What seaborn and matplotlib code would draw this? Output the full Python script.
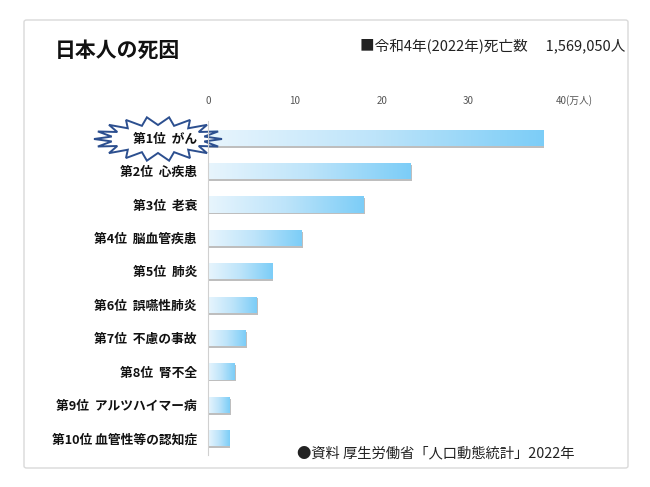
import numpy as np
import pandas as pd
import matplotlib
matplotlib.use("Agg")
import matplotlib.pyplot as plt
import seaborn as sns
from matplotlib.patches import Polygon, FancyBboxPatch
from matplotlib import patheffects as pe
from matplotlib.colors import LinearSegmentedColormap
from matplotlib.transforms import ScaledTranslation

causes = ["第1位  がん", "第2位  心疾患", "第3位  老衰", "第4位  脳血管疾患", "第5位  肺炎",
          "第6位  誤嚥性肺炎", "第7位  不慮の事故", "第8位  腎不全", "第9位  アルツハイマー病",
          "第10位 血管性等の認知症"]
deaths = [38.58, 23.30, 17.95, 10.75, 7.40, 5.61, 4.34, 3.07, 2.49, 2.44]  # 万人
tick_vals = [0, 10, 20, 30, 40]
tick_labels = ["0", "10", "20", "30", "40(万人)"]

title = "日本人の死因"
subtitle = "■令和4年(2022年)死亡数　 1,569,050人"
source = "●資料 厚生労働省「人口動態統計」2022年"

sns.set_theme(style="white")
plt.rcParams['font.family'] = ['Noto Sans CJK JP', 'DejaVu Sans']

W, H = 650, 487
fig = plt.figure(figsize=(6.5, 4.87), dpi=100)
fig.patch.set_facecolor("white")

def fx(x): return x / W
def fy(y): return 1 - y / H

# outer frame
frame = FancyBboxPatch((fx(24), fy(468)), fx(604), 448 / H,
                       boxstyle="round,pad=0,rounding_size=0.004",
                       transform=fig.transFigure, facecolor="white",
                       edgecolor="#d9d9d9", linewidth=1.0, zorder=-3)
fig.patches.append(frame)

ax = fig.add_axes([fx(208), fy(455), 391 / W, 334 / H])
ax.patch.set_visible(False)
ax.set_axisbelow(False)

df = pd.DataFrame({"cause": causes, "deaths": deaths})
sns.barplot(data=df, x="deaths", y="cause", ax=ax, color="#7ccdf7",
            width=0.48, orient="h", saturation=1)

cmap = LinearSegmentedColormap.from_list("g", ["#e8f5fd", "#bde4fa", "#7ccdf7"])
grad = np.linspace(0, 1, 256).reshape(1, -1)
for p in ax.patches:
    p.set_edgecolor("none")
    p.set_path_effects([pe.SimplePatchShadow(offset=(0.8, -1.3), shadow_rgbFace="#8a8a8a", alpha=0.55),
                        pe.Normal()])
    x0, y0 = p.get_x(), p.get_y()
    w, h = p.get_width(), p.get_height()
    im = ax.imshow(grad, cmap=cmap, aspect="auto", extent=(x0, x0 + w, y0 + h, y0),
                   zorder=p.get_zorder() + 0.1, interpolation="bicubic")
    im.set_clip_path(p)

ax.set_xlim(0, 45)
ax.set_ylim(len(causes) - 0.5, -0.5)
ax.set_xlabel("")
ax.set_ylabel("")
ax.xaxis.tick_top()
ax.set_xticks(tick_vals)
ax.set_xticklabels(tick_labels, fontsize=7, color="#555555")
lbls = ax.get_xticklabels()
lbls[-1].set_horizontalalignment("left")
lbls[-1].set_transform(lbls[-1].get_transform() + ScaledTranslation(-0.06, 0, fig.dpi_scale_trans))
ax.tick_params(axis="x", length=0, pad=11)
ax.tick_params(axis="y", length=0, pad=8)
for t in ax.get_yticklabels():
    t.set_fontsize(9.2)
    t.set_fontweight("bold")
    t.set_color("#111111")
for s in ["top", "right", "bottom"]:
    ax.spines[s].set_visible(False)
ax.spines["left"].set_color("#d0d0d0")
ax.spines["left"].set_linewidth(0.8)

# starburst behind first label (above the bar, below the tick label)
cx, cy = 158, 139
n = 18
pts = []
for i in range(2 * n):
    a = np.pi * i / n
    if i % 2 == 0:
        rx, ry = 64, 22
    else:
        rx, ry = 47, 14
    pts.append((fx(cx + rx * np.cos(a)), fy(cy + ry * np.sin(a))))
star = Polygon(pts, closed=True, transform=fig.transFigure, facecolor="white",
               edgecolor="#2c4f8f", linewidth=1.4, zorder=2.2, clip_on=False)
ax.add_artist(star)

fig.text(fx(55), fy(50), title, fontsize=15, fontweight="bold", ha="left", va="center", color="#111111")
fig.text(fx(625), fy(47), subtitle, fontsize=10.5, ha="right", va="center", color="#222222")
fig.text(fx(297), fy(453), source, fontsize=10.3, ha="left", va="center", color="#222222")

fig.savefig("out.png", dpi=100)
